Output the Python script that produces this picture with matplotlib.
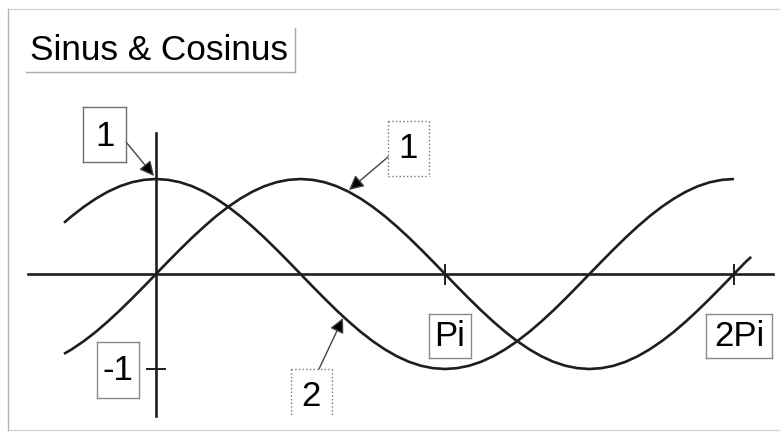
import matplotlib
matplotlib.use('Agg')
import matplotlib.pyplot as plt
from matplotlib.patches import FancyArrowPatch
from matplotlib.lines import Line2D

W, H = 780, 432

# values (x in radians)
x_cos = [-1.0, -0.916, -0.785, -0.654, -0.524, -0.393, -0.262, -0.131,
         0.0, 0.131, 0.262, 0.393, 0.524, 0.654, 0.785, 0.916,
         1.047, 1.178, 1.309, 1.440, 1.571, 1.702, 1.833, 1.963,
         2.094, 2.225, 2.356, 2.487, 2.618, 2.749, 2.880, 3.011,
         3.142, 3.272, 3.403, 3.534, 3.665, 3.796, 3.927, 4.058,
         4.189, 4.320, 4.451, 4.581, 4.712, 4.843, 4.974, 5.105,
         5.236, 5.367, 5.498, 5.629, 5.760, 5.890, 6.021, 6.152,
         6.283]
y_cos = [0.54, 0.609, 0.707, 0.793, 0.866, 0.924, 0.966, 0.991,
         1.0, 0.991, 0.966, 0.924, 0.866, 0.793, 0.707, 0.609,
         0.5, 0.383, 0.259, 0.131, 0.0, -0.131, -0.259, -0.383,
         -0.5, -0.609, -0.707, -0.793, -0.866, -0.924, -0.966, -0.991,
         -1.0, -0.991, -0.966, -0.924, -0.866, -0.793, -0.707, -0.609,
         -0.5, -0.383, -0.259, -0.131, 0.0, 0.131, 0.259, 0.383,
         0.5, 0.609, 0.707, 0.793, 0.866, 0.924, 0.966, 0.991,
         1.0]
x_sin = x_cos + [6.414, 6.47]
y_sin = [-0.84, -0.793, -0.707, -0.609, -0.5, -0.383, -0.259, -0.131,
         0.0, 0.131, 0.259, 0.383, 0.5, 0.609, 0.707, 0.793,
         0.866, 0.924, 0.966, 0.991, 1.0, 0.991, 0.966, 0.924,
         0.866, 0.793, 0.707, 0.609, 0.5, 0.383, 0.259, 0.131,
         0.0, -0.131, -0.259, -0.383, -0.5, -0.609, -0.707, -0.793,
         -0.866, -0.924, -0.966, -0.991, -1.0, -0.991, -0.966, -0.924,
         -0.866, -0.793, -0.707, -0.609, -0.5, -0.383, -0.259, -0.131,
         0.0, 0.131, 0.18]

title = 'Sinus & Cosinus'
x_ticks = [3.1416, 6.2832]
x_tick_labels = ['Pi', '2Pi']
y_tick = -1
y_tick_label = '-1'

plt.rcParams['font.family'] = ['Liberation Sans', 'DejaVu Sans']

fig = plt.figure(figsize=(W / 100, H / 100), dpi=100)
ax = fig.add_axes([0, 0, 1, 1])
ax.set_axis_off()

# origin at pixel (156, 274), pi = 289 px, 1 unit = 95 px
PI_PX, AMP_PX, OX, OY = 289.0, 95.0, 156.0, 274.0
ax.set_xlim(-OX / PI_PX * 3.14159, (W - OX) / PI_PX * 3.14159)
ax.set_ylim(-(H - OY) / AMP_PX, OY / AMP_PX)

ink = '#1e1e1e'
ax.plot(x_cos, y_cos, color=ink, lw=1.9, solid_capstyle='butt')
ax.plot(x_sin, y_sin, color=ink, lw=1.9, solid_capstyle='butt')

# axes crossing at origin
ax.plot([-1.39, 6.71], [0, 0], color=ink, lw=1.9)
ax.plot([0, 0], [-1.49, 1.48], color=ink, lw=1.9)
for t in x_ticks:
    ax.plot([t, t], [-0.1, 0.09], color=ink, lw=1.4)
ax.plot([-0.1, 0.1], [y_tick, y_tick], color=ink, lw=1.4)


def fp(x, y):
    # pixel (from top left) -> figure fraction
    return x / W, 1 - y / H


def box(x0, y0, x1, y1, ls='-', color='#8a8a8a', sides='lrtb'):
    pts = {'l': [(x0, y0), (x0, y1)], 'r': [(x1, y0), (x1, y1)],
           't': [(x0, y0), (x1, y0)], 'b': [(x0, y1), (x1, y1)]}
    for s in sides:
        (a, b), (c, d) = pts[s]
        p1, p2 = fp(a, b), fp(c, d)
        fig.add_artist(Line2D([p1[0], p2[0]], [p1[1], p2[1]],
                              transform=fig.transFigure, color=color,
                              lw=1.0, ls=ls))


def label(x, y, s, size=25):
    fx, fy = fp(x, y)
    fig.text(fx, fy, s, ha='center', va='center', fontsize=size,
             color='black')


def arrow(x0, y0, x1, y1):
    a = FancyArrowPatch(fp(x0, y0), fp(x1, y1), transform=fig.transFigure,
                        arrowstyle='-|>', mutation_scale=22, color='#666666',
                        lw=1.0, shrinkA=0, shrinkB=0)
    a.set_facecolor('black')
    a.set_edgecolor('#444444')
    fig.add_artist(a)


# outer frame / shadow
box(8, 9, W + 2, 430, color='#d8d8d8', sides='tb')
box(8, 9, W + 2, 430, color='#b5b5b5', sides='l')

# title
box(26, 28, 295, 72, color='#a8a8a8', sides='rb')
tx, ty = fp(30, 50)
fig.text(tx, ty, title, ha='left', va='center', fontsize=25.3, color='black')

# label boxes
box(83, 107, 126, 162, color='#6f6f6f')
label(105, 136, '1')
arrow(126, 142, 154, 176)

box(388, 121, 429, 176, ls=':', color='#777777')
label(408, 149, '1')
arrow(388, 157, 349, 190)

box(97, 342, 139, 398, color='#8a8a8a')
label(118, 371, y_tick_label)

box(291, 369, 332, 417, ls=':', color='#777777', sides='lrt')
label(311, 396, '2')
arrow(319, 369, 343, 318)

box(429, 314, 471, 358)
label(450, 336, x_tick_labels[0])

box(706, 314, 772, 358)
label(739, 336, x_tick_labels[1])

fig.savefig('out.png', dpi=100)
